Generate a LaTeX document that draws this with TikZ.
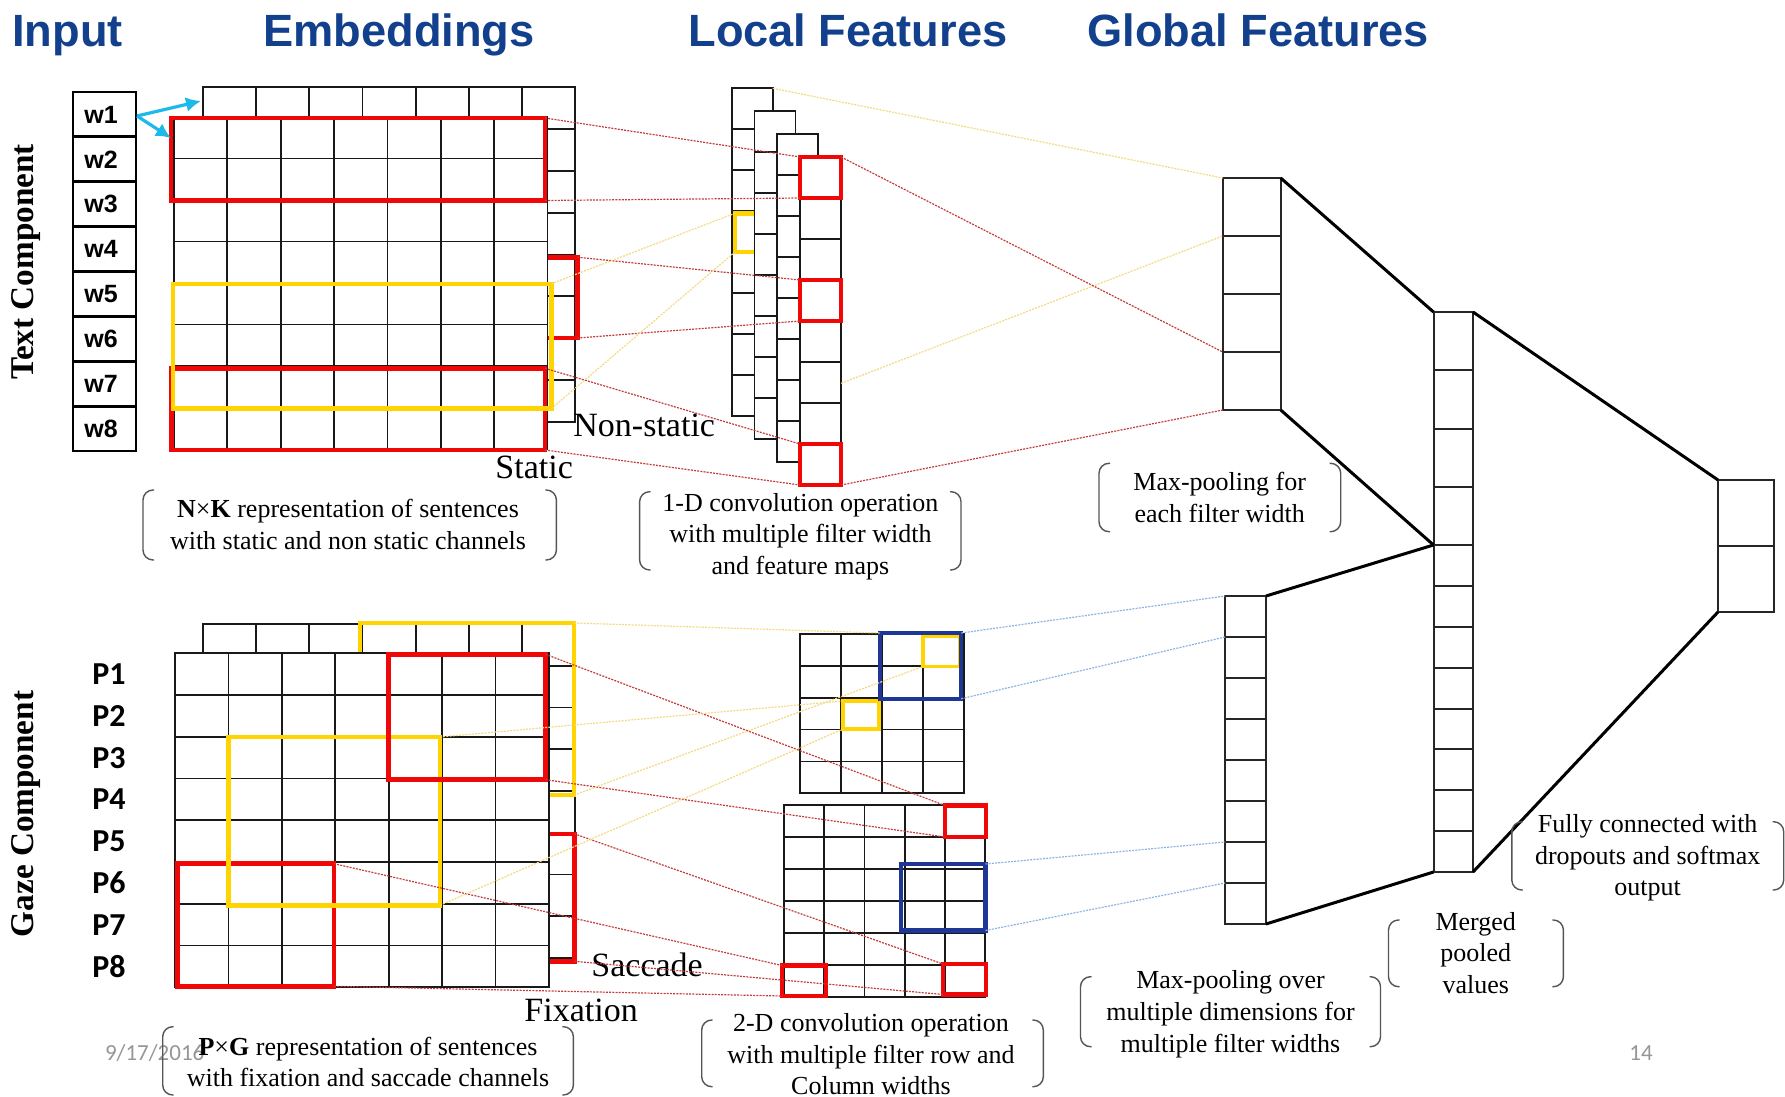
\documentclass[tikz,border=0pt]{standalone}
\usepackage{fontspec}
\setmainfont{Liberation Serif}
\newfontfamily\hdfont{Liberation Sans}
\newfontfamily\calfont{Carlito}
\usetikzlibrary{fit,arrows.meta}

\definecolor{headblue}{RGB}{18,64,140}
\definecolor{boxred}{RGB}{240,8,8}
\definecolor{boxyellow}{RGB}{255,212,0}
\definecolor{boxblue}{RGB}{30,55,150}
\definecolor{linkred}{RGB}{195,60,60}
\definecolor{linkyellow}{RGB}{245,218,130}
\definecolor{linkblue}{RGB}{140,180,225}
\definecolor{arrowcyan}{RGB}{30,185,235}
\definecolor{bracketgray}{RGB}{85,85,85}
\definecolor{footgray}{RGB}{150,150,150}

% #1 line style, #2 name, #3 #4 top-left corner, #5 columns, #6 rows, #7 cell width, #8 cell height
\newcommand\cellgrid[8][gridline]{%
  \node[inner sep=0pt, outer sep=0pt, fill=white,
        fit={(#3,#4) ({#3+#5*#7},{#4+#6*#8})}] (#2) {};
  \foreach \i in {0,...,#5} \draw[#1] ({#3+\i*#7},#4) -- ({#3+\i*#7},{#4+#6*#8});
  \foreach \j in {0,...,#6} \draw[#1] (#3,{#4+\j*#8}) -- ({#3+#5*#7},{#4+\j*#8});
  \draw[#1] (#3,#4) rectangle ({#3+#5*#7},{#4+#6*#8});
}

% round brackets around a caption
\newcommand\bracketbox[4]{%
  \draw[bracketline] ({#1+11},#2) -- (#1,#2) -- (#1,#4) -- ({#1+11},#4);
  \draw[bracketline] ({#3-11},#2) -- (#3,#2) -- (#3,#4) -- ({#3-11},#4);
}

\begin{document}
\begin{tikzpicture}[x=0.5pt, y=-0.5pt,
  gridline/.style={draw=black!90, line width=0.9pt},
  wline/.style={draw=black, line width=1.4pt},
  poolline/.style={draw=black!85, line width=1pt},
  redbox/.style={inner sep=0pt, outer sep=0pt, draw=boxred, line width=2.3pt},
  yelbox/.style={inner sep=0pt, outer sep=0pt, draw=boxyellow, line width=2.3pt},
  smallyel/.style={inner sep=0pt, outer sep=0pt, draw=boxyellow, line width=1.9pt},
  bluebox/.style={inner sep=0pt, outer sep=0pt, draw=boxblue, line width=2.1pt},
  redlink/.style={draw=linkred, line width=0.6pt, dash pattern=on 1pt off 0.6pt},
  yellink/.style={draw=linkyellow, line width=0.6pt, dash pattern=on 1pt off 0.6pt},
  bluelink/.style={draw=linkblue, line width=0.6pt, dash pattern=on 1pt off 0.6pt},
  thickwire/.style={draw=black, line width=1.5pt},
  cyanarrow/.style={draw=arrowcyan, line width=1.6pt, -{Latex[length=7.5pt,width=7.5pt]}},
  bracketline/.style={draw=bracketgray, line width=0.7pt, rounded corners=5pt},
  header/.style={font=\hdfont\bfseries\fontsize{22.6}{26}\selectfont, text=headblue, inner sep=0pt, anchor=base west},
  comptitle/.style={font=\bfseries\fontsize{16.6}{19}\selectfont, inner sep=0pt},
  wtxt/.style={font=\hdfont\bfseries\fontsize{12.5}{14}\selectfont, inner sep=0pt},
  ptxt/.style={font=\calfont\bfseries\fontsize{16}{18}\selectfont, inner sep=0pt},
  chantxt/.style={font=\fontsize{17}{19}\selectfont, inner sep=0pt, anchor=base west},
  captxt/.style={font=\fontsize{13}{15}\selectfont, inner sep=0pt, anchor=base},
  foottxt/.style={font=\calfont\fontsize{11.5}{13}\selectfont, text=footgray, inner sep=0pt, anchor=base west}]

\path[fill=white] (0,0) rectangle (1785,1097);
\useasboundingbox (0,0) rectangle (1785,1097);

% column headings
\node[header] (hInput) at (12,46.7) {Input};
\node[header] (hEmb) at (263,46.7) {Embeddings};
\node[header] (hLoc) at (688,46.7) {Local Features};
\node[header] (hGlob) at (1087,46.7) {Global Features};

% component titles
\node[comptitle, rotate=90] (tcomp) at (26,262) {Text Component};
\node[comptitle, rotate=90] (gcomp) at (26,814) {Gaze Component};

% ---------------- text component ----------------
\cellgrid[wline]{wcol}{73}{92}{1}{8}{63}{44.875}
\foreach \k in {1,...,8}
  \node[wtxt] (w\k) at (101,{92+44.875*(\k-0.5)}) {w\k};

% non-static channel (back) and static channel (front)
\cellgrid{tback}{202.8}{87}{7}{8}{53.21}{41.875}
\node[redbox, fit={(420,257.2) (577.3,338)}] (tbr) {};
\cellgrid{tfront}{174}{117}{7}{8}{53.37}{41.5}
\node[redbox, fit={(171,118) (545,200.5)}] (tr1) {};
\node[redbox, fit={(171.5,368.3) (545,450)}] (tr2) {};
\node[yelbox, fit={(172.8,283.8) (551.2,408.7)}] (ty) {};

\coordinate (w1o) at (137,116);
\coordinate (tbk) at (201,101);
\coordinate (tfr) at (171,138);
\draw[cyanarrow] (w1o) -- (tbk);
\draw[cyanarrow] (w1o) -- (tfr);

\node[chantxt] (nonstatic) at (573,436.7) {Non-static};
\node[chantxt] (static) at (495,478) {Static};

% 1-D feature maps
\cellgrid{map1}{731.7}{88.3}{1}{8}{41}{41}
\node[yelbox, fit={(735,213.3) (770,252)}] (lfy) {};
\cellgrid{map2}{754.5}{111.2}{1}{8}{41}{41}
\cellgrid{map3}{777.3}{134.1}{1}{8}{41}{41}
\cellgrid{map4}{800.1}{157}{1}{8}{41}{41}
\node[redbox, fit={(800.1,157) (841.1,198)}] (lr0) {};
\node[redbox, fit={(800.1,280) (841.1,321)}] (lr3) {};
\node[redbox, fit={(800.1,444) (841.1,485)}] (lr7) {};
\coordinate (m4y) at (841.1,383.3);

% ---------------- pooling and output ----------------
\cellgrid[poolline]{pool1}{1222.7}{178}{1}{4}{58}{58}
\cellgrid[poolline]{mergA}{1433.5}{312}{1}{4}{39.5}{58.25}
\cellgrid[poolline]{mergB}{1433.5}{545}{1}{8}{39.5}{40.875}
\cellgrid[poolline]{gpool}{1225}{596}{1}{8}{41}{41}
\cellgrid[poolline]{outcol}{1718}{480}{1}{2}{56}{66}
\coordinate (p1r1) at (1222.7,236);
\coordinate (p1r3) at (1222.7,352);
\coordinate (gp1) at (1225,637);
\coordinate (gp6) at (1225,842);
\coordinate (gp7) at (1225,883);

\draw[thickwire] (pool1.north east) -- (mergA.north west);
\draw[thickwire] (pool1.south east) -- (mergA.south west);
\draw[thickwire] (gpool.north east) -- (mergB.north west);
\draw[thickwire] (gpool.south east) -- (mergB.south west);
\draw[thickwire] (mergA.north east) -- (outcol.north west);
\draw[thickwire] (mergB.south east) -- (outcol.south west);

% ---------------- gaze component ----------------
\cellgrid{umap}{800}{634}{4}{5}{41}{31.86}
\node[smallyel, fit={(923,636.5) (960,666.5)}] (uy1) {};
\node[smallyel, fit={(843,701) (879,729)}] (uy2) {};
\node[bluebox, fit={(879.7,633) (961.3,698.7)}] (ub) {};
\cellgrid{lmap}{784}{805}{5}{6}{40.2}{32.05}
\node[redbox, fit={(945,805.5) (986,837)}] (lTR) {};
\node[redbox, fit={(943,964) (986,994.5)}] (lBR) {};
\node[redbox, fit={(782,965.5) (826,996)}] (lBL) {};
\node[bluebox, fit={(901,864) (985.5,930.5)}] (lb) {};

% saccade channel (back) and fixation channel (front)
\cellgrid{gback}{202.8}{624}{7}{8}{53.21}{41.75}
\node[yelbox, fit={(359.8,623) (574,795)}] (gyb) {};
\node[redbox, fit={(420,833.8) (574.3,961.3)}] (gbr) {};
\cellgrid{gfront}{175.2}{653.3}{7}{8}{53.37}{41.75}
\node[redbox, fit={(177.2,863.7) (334,986.3)}] (gr2) {};
\node[yelbox, fit={(228.6,737) (440,905.3)}] (gy) {};
\node[redbox, fit={(388.5,654.3) (545.5,779.7)}] (gr1) {};

\foreach \k in {1,...,8}
  \node[ptxt] (p\k) at (109,{653.3+41.75*(\k-0.5)}) {P\k};

\node[chantxt] (saccade) at (591,976.7) {Saccade};
\node[chantxt] (fixation) at (524,1021.7) {Fixation};

% ---------------- filter links ----------------
\draw[redlink] (tr1.north east) -- (lr0.north west);
\draw[redlink] (tr1.south east) -- (lr0.south west);
\draw[redlink] (tbr.north east) -- (lr3.north west);
\draw[redlink] (tbr.south east) -- (lr3.south west);
\draw[redlink] (tr2.north east) -- (lr7.north west);
\draw[redlink] (tr2.south east) -- (lr7.south west);
\draw[yellink] (ty.north east) -- (lfy.north west);
\draw[yellink] (ty.south east) -- (lfy.south west);
\draw[yellink] (map1.north east) -- (pool1.north west);
\draw[yellink] (m4y) -- (p1r1);
\draw[redlink] (lr0.north east) -- (p1r3);
\draw[redlink] (lr7.south east) -- (pool1.south west);

\draw[redlink] (gr1.north east) -- (lTR.north west);
\draw[redlink] (gr1.south east) -- (lTR.south west);
\draw[redlink] (gbr.north east) -- (lBR.north west);
\draw[redlink] (gbr.south east) -- (lBR.south west);
\draw[redlink] (gr2.north east) -- (lBL.north west);
\draw[redlink] (gr2.south east) -- (lBL.south west);
\draw[yellink] (gyb.north east) -- (ub.north west);
\draw[yellink] (gy.north east) -- (uy2.north west);
\draw[yellink] (gy.south east) -- (uy2.south west);
\draw[yellink] (gyb.south east) -- (uy1.south west);
\draw[bluelink] (ub.north east) -- (gpool.north west);
\draw[bluelink] (ub.south east) -- (gp1);
\draw[bluelink] (lb.north east) -- (gp6);
\draw[bluelink] (lb.south east) -- (gp7);

% ---------------- captions ----------------
\node[foottxt] (date) at (104.6,1060) {9/17/2016};
\node[foottxt] (page) at (1629,1060) {14};

\bracketbox{143}{490}{556.4}{560}
\node[captxt] (c1a) at (348,517) {\textbf{N}×\textbf{K} representation of sentences};
\node[captxt] (c1b) at (348,549) {with static and non static channels};

\bracketbox{639.6}{491.7}{961}{570}
\node[captxt] (c2a) at (800.4,511) {1-D convolution operation};
\node[captxt] (c2b) at (800.4,542.5) {with multiple filter width};
\node[captxt] (c2c) at (800.4,574) {and feature maps};

\bracketbox{1099}{463.3}{1340.7}{531.7}
\node[captxt] (c3a) at (1219.7,490.5) {Max-pooling for};
\node[captxt] (c3b) at (1219.7,522.5) {each filter width};

\bracketbox{1511.8}{821.7}{1783.7}{890}
\node[captxt] (c4a) at (1647.7,832.5) {Fully connected with};
\node[captxt] (c4b) at (1647.7,864) {dropouts and softmax};
\node[captxt] (c4c) at (1647.7,895) {output};

\bracketbox{1388.5}{920}{1563.4}{986.7}
\node[captxt] (c5a) at (1475.7,930) {Merged};
\node[captxt] (c5b) at (1475.7,961.7) {pooled};
\node[captxt] (c5c) at (1475.7,993.3) {values};

\bracketbox{1080.5}{976.7}{1380.5}{1046.7}
\node[captxt] (c6a) at (1230.5,988.3) {Max-pooling over};
\node[captxt] (c6b) at (1230.5,1020) {multiple dimensions for};
\node[captxt] (c6c) at (1230.5,1052.7) {multiple filter widths};

\bracketbox{701.7}{1020}{1043.3}{1086.7}
\node[captxt] (c7a) at (871,1031.5) {2-D convolution operation};
\node[captxt] (c7b) at (871,1063) {with multiple filter row and};
\node[captxt] (c7c) at (871,1094) {Column widths};

\bracketbox{162.7}{1026.7}{573.4}{1095}
\node[captxt] (c8a) at (368,1055) {\textbf{P}×\textbf{G} representation of sentences};
\node[captxt] (c8b) at (368,1086.7) {with fixation and saccade channels};

\end{tikzpicture}
\end{document}
